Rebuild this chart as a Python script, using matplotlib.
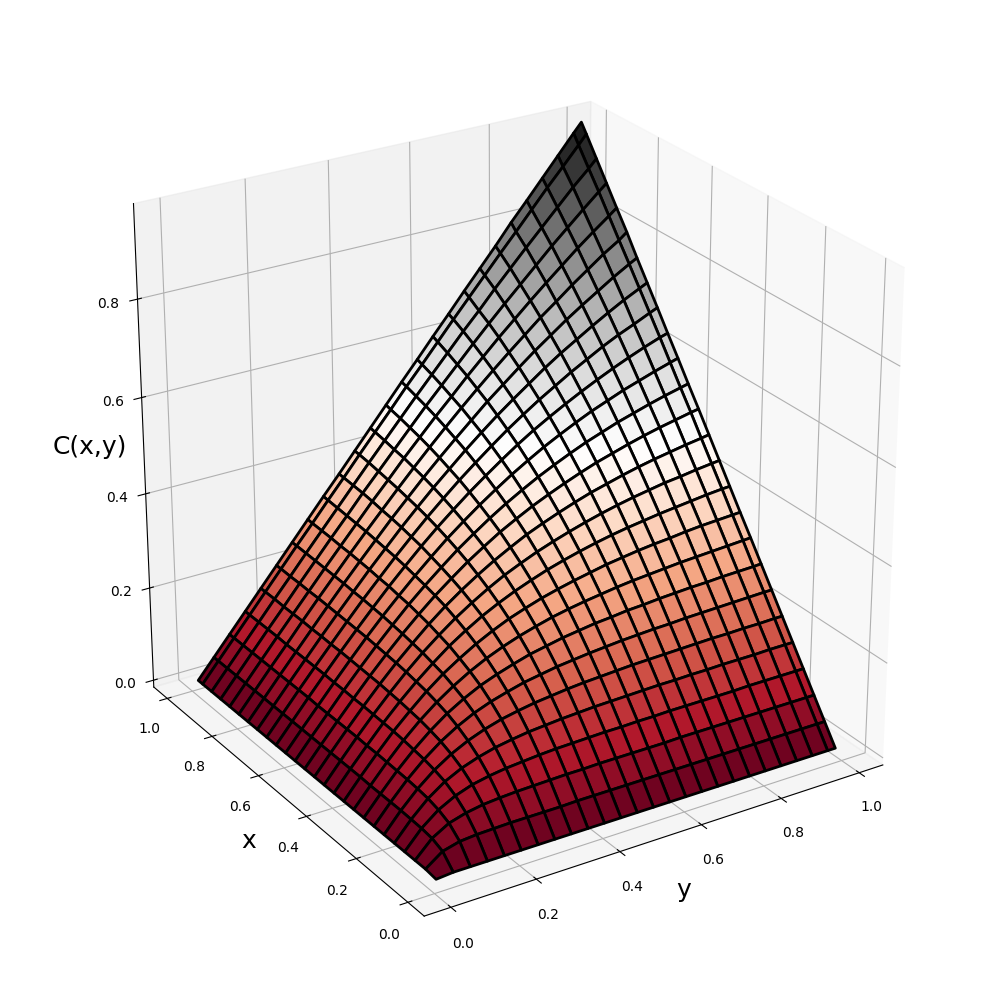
import numpy as np
import matplotlib
matplotlib.use('Agg')
import matplotlib.pyplot as plt

grid = [0.01, 0.05, 0.09, 0.13, 0.17, 0.21, 0.25, 0.29, 0.33, 0.37, 0.41, 0.45, 0.49,
        0.53, 0.57, 0.61, 0.65, 0.69, 0.73, 0.77, 0.81, 0.85, 0.89, 0.93, 0.97, 0.99]

# upper triangle of the surface heights (the surface is symmetric)
z_upper = [
    [.007, .010, .010, .010, .010, .010, .010, .010, .010, .010, .010, .010, .010, .010, .010, .010, .010, .010, .010, .010, .010, .010, .010, .010, .010, .010],
    [.035, .044, .047, .048, .049, .049, .049, .049, .050, .050, .050, .050, .050, .050, .050, .050, .050, .050, .050, .050, .050, .050, .050, .050, .050],
    [.064, .074, .080, .083, .085, .086, .087, .088, .088, .089, .089, .089, .089, .089, .090, .090, .090, .090, .090, .090, .090, .090, .090, .090],
    [.092, .104, .111, .116, .119, .122, .124, .125, .126, .127, .127, .128, .128, .129, .129, .129, .129, .129, .130, .130, .130, .130, .130],
    [.121, .133, .142, .148, .153, .156, .159, .161, .163, .164, .165, .166, .167, .167, .168, .168, .169, .169, .169, .170, .170, .170],
    [.150, .163, .173, .180, .186, .190, .194, .197, .199, .201, .203, .204, .205, .206, .207, .208, .208, .209, .209, .210, .210],
    [.180, .193, .203, .212, .218, .224, .228, .232, .235, .238, .240, .242, .243, .245, .246, .247, .248, .249, .250, .250],
    [.210, .223, .234, .244, .251, .258, .263, .268, .271, .275, .277, .280, .282, .284, .285, .287, .288, .289, .290],
    [.240, .254, .266, .276, .285, .292, .298, .303, .308, .312, .315, .318, .321, .323, .325, .327, .329, .330],
    [.271, .286, .298, .309, .318, .326, .333, .340, .345, .350, .354, .357, .361, .364, .366, .368, .369],
    [.303, .318, .331, .343, .353, .362, .370, .377, .383, .388, .393, .397, .401, .405, .408, .409],
    [.336, .351, .365, .377, .388, .398, .407, .415, .422, .428, .434, .438, .443, .447, .449],
    [.369, .386, .400, .413, .425, .436, .445, .454, .462, .469, .475, .481, .486, .489],
    [.404, .421, .436, .450, .463, .475, .485, .495, .504, .512, .519, .526, .529],
    [.440, .458, .474, .489, .503, .515, .527, .537, .547, .556, .564, .568],
    [.478, .497, .514, .530, .545, .558, .571, .582, .593, .603, .608],
    [.518, .537, .555, .572, .588, .603, .617, .630, .642, .647],
    [.559, .579, .599, .617, .635, .651, .665, .680, .687],
    [.603, .625, .645, .665, .684, .702, .718, .726],
    [.649, .673, .695, .716, .737, .756, .765],
    [.698, .724, .748, .772, .793, .806],
    [.752, .780, .806, .831, .844],
    [.810, .840, .869, .883],
    [.874, .905, .922],
    [.942, .961],
    [.980],
]

n = len(grid)
Z = np.zeros((n, n))
for i, row in enumerate(z_upper):
    Z[i, i:] = row
    Z[i:, i] = row

X, Y = np.meshgrid(grid, grid)

fig = plt.figure(figsize=(10, 10))
ax = fig.add_subplot(projection='3d')
ax.set_position([0.114, 0.1175, 0.775, 0.77])
ax.plot_surface(X, Y, Z, rstride=1, cstride=1, cmap='RdGy', edgecolor='k', linewidth=2)
ax.view_init(elev=25.5, azim=-122.5)
ax.set_box_aspect((1, 1, 1), zoom=1.185)
ax.set_zlim(-0.015, 0.99)

# the axis running to the right carries the y label
ax.set_xlabel('y', fontsize=18, labelpad=0)
ax.set_ylabel('x', fontsize=18, labelpad=0)
ax.zaxis.set_rotate_label(False)
ax.set_zlabel('C(x,y)', fontsize=18, rotation=0, labelpad=0.5)

plt.savefig('out.png', dpi=100)
